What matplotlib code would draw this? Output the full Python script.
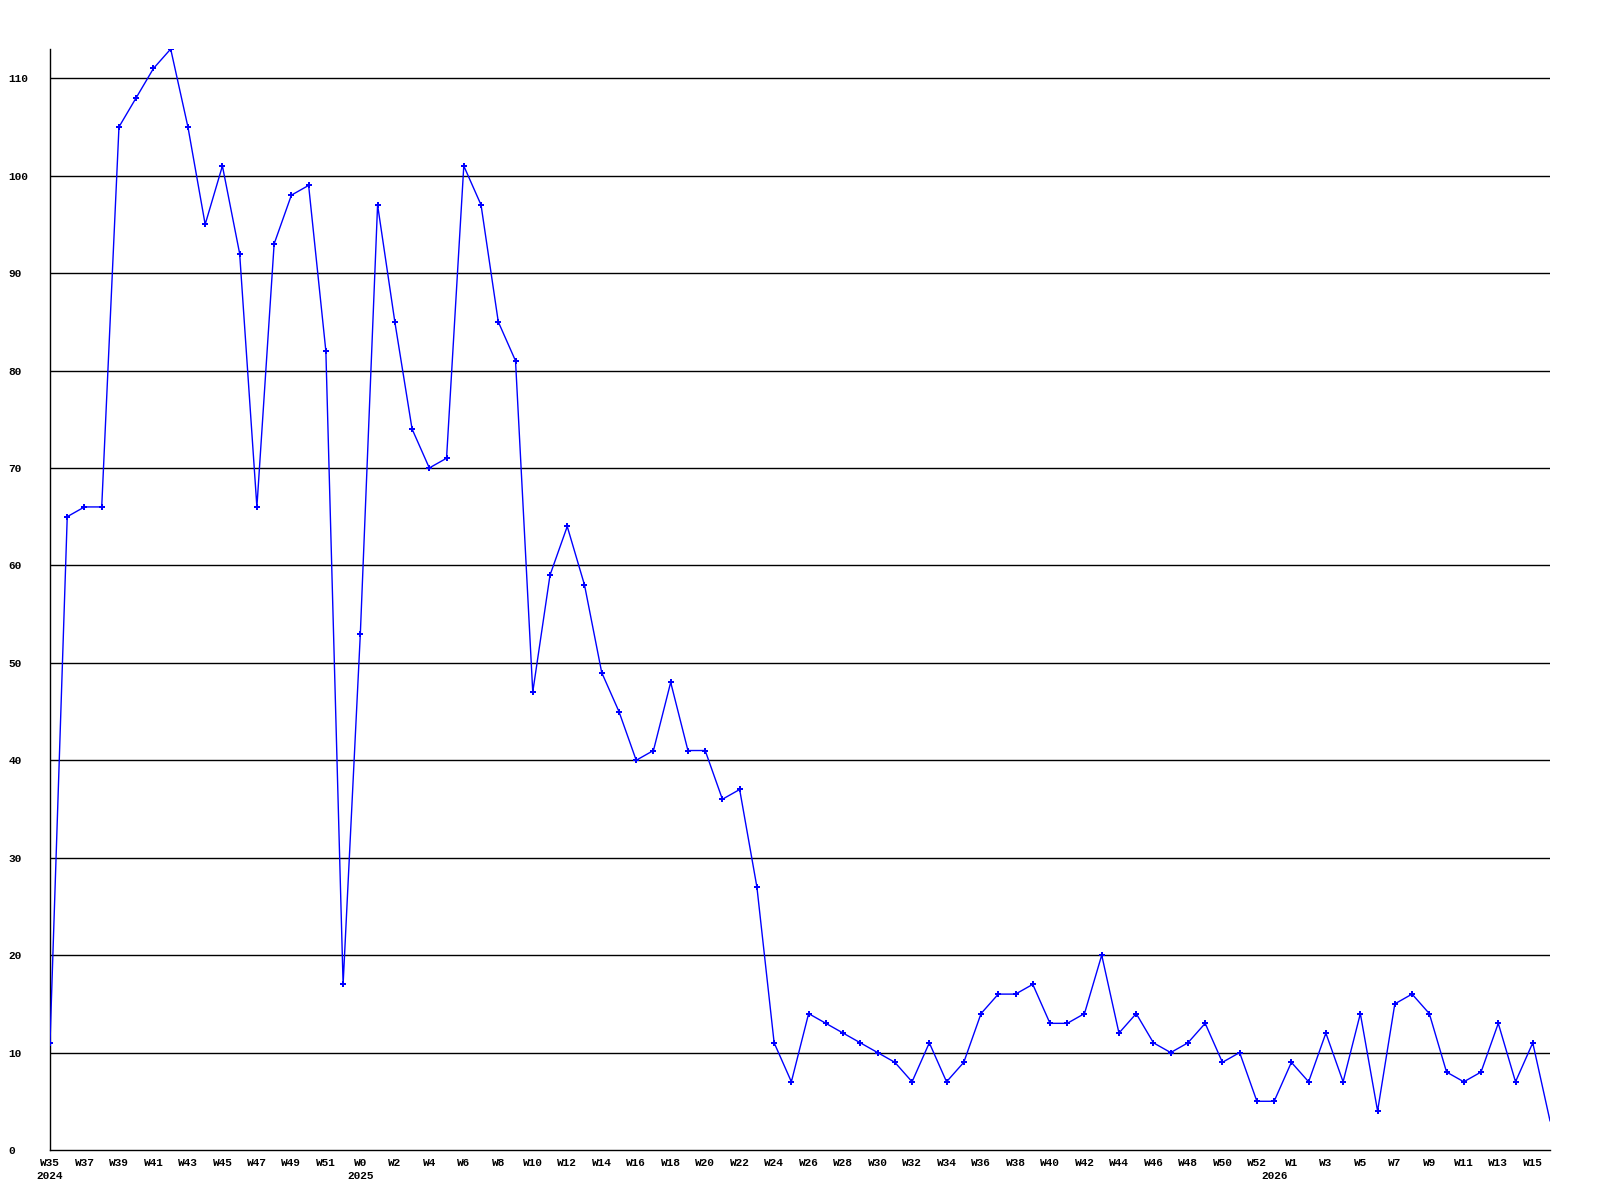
import matplotlib.pyplot as plt
import numpy as np

# weekly values
vals_2024 = [11, 65, 66, 66, 105, 108, 111, 113, 105, 95, 101, 92, 66, 93, 98, 99, 82, 17]  # W35..W52
vals_2025 = [53, 97, 85, 74, 70, 71, 101, 97, 85, 81, 47, 59, 64, 58, 49, 45, 40, 41, 48, 41,
             41, 36, 37, 27, 11, 7, 14, 13, 12, 11, 10, 9, 7, 11, 7, 9, 14, 16, 16, 17,
             13, 13, 14, 20, 12, 14, 11, 10, 11, 13, 9, 10, 5]  # W0..W52
vals_2026 = [5, 9, 7, 12, 7, 14, 4, 15, 16, 14, 8, 7, 8, 13, 7, 11, 3]  # W0..W16

weeks_2024 = list(range(35, 53))
weeks_2025 = list(range(0, 53))
weeks_2026 = list(range(0, 17))

values = vals_2024 + vals_2025 + vals_2026
weeks = weeks_2024 + weeks_2025 + weeks_2026
x = np.arange(len(values))

# where each year starts, and the year label
year_pos = [0, len(vals_2024), len(vals_2024) + len(vals_2025)]
year_txt = ['2024', '2025', '2026']

font = dict(family='Liberation Mono', weight='bold', size=8)

fig = plt.figure(figsize=(16, 12), dpi=100)
ax = fig.add_axes([50 / 1600, 1 - 1150 / 1200, 1500 / 1600, 1101 / 1200])

# last point sits on the right edge and shows no marker in the original
ax.plot(x, values, color='#0000ff', linewidth=1.0, marker='P', markersize=4,
        markeredgewidth=0, markevery=list(range(len(values) - 1)), zorder=3)

ax.set_xlim(0, len(values) - 1)
ax.set_ylim(0, 113)

yt = np.arange(0, 111, 10)
ax.set_yticks(yt)
ax.set_yticklabels([str(v) for v in yt], fontdict=font, ha='left')
for t in yt[1:]:
    ax.axhline(t, color='black', linewidth=1.0, zorder=1)

xt = x[::2]
ax.set_xticks(xt)
ax.set_xticklabels(['W%d' % weeks[i] for i in xt], fontdict=font)
ax.tick_params(axis='both', length=0)
ax.tick_params(axis='y', pad=30)
ax.tick_params(axis='x', pad=6)

for p, t in zip(year_pos, year_txt):
    ax.text(p, -0.024, t, transform=ax.get_xaxis_transform(), ha='center', va='center', **font)

for s in ['top', 'right']:
    ax.spines[s].set_visible(False)
for s in ['left', 'bottom']:
    ax.spines[s].set_linewidth(1.0)

plt.savefig('out.png', dpi=100)
